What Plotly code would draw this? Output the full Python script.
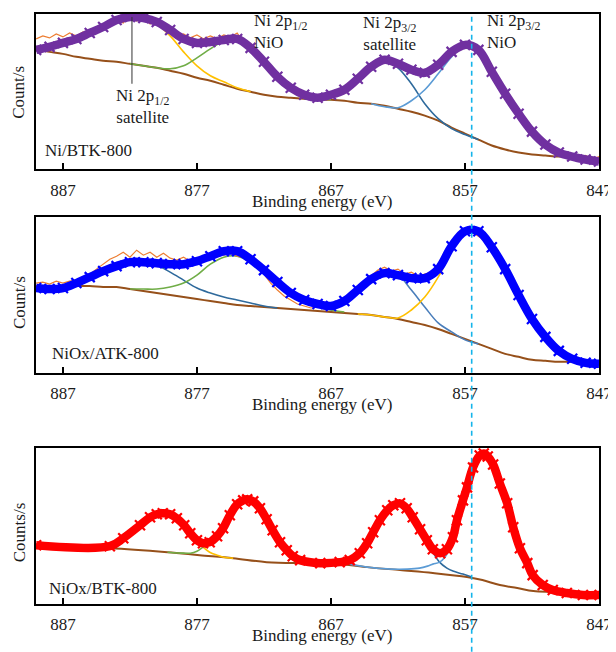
import plotly.graph_objects as go

FONT = "Liberation Serif, Times New Roman, serif"
TXT = "#1a1a1a"

# ---------------- Panel 1 : Ni/BTK-800 ----------------
E1 = [889, 888, 887, 886, 885, 884, 883, 882, 881, 880, 879, 878, 877, 876, 875, 874, 873, 872,
      871, 870, 869, 868, 867, 866, 865, 864, 863, 862, 861, 860, 859, 858, 857, 856, 855, 854,
      853, 852, 851, 850, 849, 848, 847]
P1_ENVELOPE = [120, 123, 127, 131, 137, 143, 150, 153, 152, 148, 140, 131, 127, 128, 130, 131, 122, 108,
               93, 82, 75, 72, 75, 80, 91, 103, 110, 106, 100, 97, 105, 118, 125, 120, 98, 76,
               56, 38, 25, 17, 13, 10, 8]
P1_BACKGROUND = [120, 118, 116, 113, 111, 109, 108, 106, 104, 102, 99, 96, 92, 89, 85, 81, 78, 75,
                 73, 72, 71, 70, 70, 69, 67, 66, 64, 61, 58, 54, 49, 42, 36, 30, 24, 20,
                 17, 15, 14, 13, 13, 12, 11]
P1_SAT12_E = [889, 888, 887, 886, 885, 884, 883, 882, 881, 880, 879, 878, 877, 876, 875, 874, 873]
P1_SAT12 = [120, 123, 127, 131, 137, 143, 150, 153, 151, 146, 134, 118, 104, 94, 88, 82, 78]
P1_NIO12_E = [882, 881, 880, 879, 878, 877, 876, 875, 874, 873, 872, 871, 870, 869, 868, 867]
P1_NIO12 = [106, 104, 102, 101, 104, 112, 121, 129, 130, 122, 108, 93, 82, 75, 72, 70]
P1_SAT32_E = [869, 868, 867, 866, 865, 864, 863, 862, 861, 860, 859, 858, 857, 856]
P1_SAT32 = [71, 72, 75, 80, 91, 103, 110, 102, 86, 66, 51, 41, 35, 30]
P1_NIO32_E = [864, 863, 862, 861, 860, 859, 858, 857, 856, 855, 854, 853, 852, 851, 850, 849, 848, 847]
P1_NIO32 = [66, 63, 62, 69, 80, 96, 113, 124, 120, 98, 76, 56, 38, 25, 17, 13, 10, 8]

RAW_E = [889, 888.5, 888, 887.5, 887, 886.5, 886, 885.5, 885, 884.5, 884, 883.5, 883, 882.5, 882,
         881.5, 881, 880.5, 880, 879.5, 879, 878.5, 878, 877.5, 877, 876.5, 876, 875.5, 875, 874.5,
         874, 873.5, 873, 872.5, 872, 871.5, 871, 870.5, 870, 869.5, 869, 868.5, 868, 867.5, 867,
         866.5, 866, 865.5, 865, 864.5, 864, 863.5, 863, 862.5, 862, 861.5, 861, 860.5, 860, 859.5,
         859, 858.5, 858, 857.5, 857, 856.5, 856, 855.5, 855, 854.5, 854, 853.5, 853, 852.5, 852,
         851.5, 851, 850.5, 850, 849.5, 849, 848.5, 848, 847.5, 847]
P1_RAW = [131, 134, 132, 136, 133, 137, 134, 138, 136, 141,
          145, 143, 150, 147, 155, 149, 153, 146, 150, 141,
          138, 134, 136, 132, 135, 131, 134, 131, 135, 133,
          137, 127, 123, 115, 109, 100, 94, 86, 83, 78,
          76, 72, 74, 72, 76, 77, 81, 85, 92, 97,
          104, 108, 111, 108, 107, 101, 100, 97, 98, 100,
          106, 112, 119, 124, 126, 125, 121, 111, 99, 87,
          77, 66, 56, 46, 39, 31, 25, 21, 17, 15,
          13, 12, 14, 10, 13]

# ---------------- Panel 2 : NiOx/ATK-800 ----------------
P2_ENVELOPE = [85, 84, 85, 90, 96, 102, 107, 111, 111, 110, 109, 109, 112, 117, 122, 122, 114, 103,
               91, 80, 73, 69, 67, 72, 83, 94, 100, 98, 95, 95, 104, 127, 142, 142, 126, 104,
               78, 54, 36, 22, 14, 10, 9]
P2_BACKGROUND = [87, 87, 87, 87, 87, 86, 86, 84, 82, 80, 78, 76, 74, 72, 70, 68, 67, 66,
                 65, 64, 63, 62, 61, 60, 59, 58, 56, 54, 51, 48, 44, 39, 34, 29, 24, 19,
                 16, 13, 12, 11, 11, 10, 10]
P2_SAT12_E = [886, 885, 884, 883, 882, 881, 880, 879, 878, 877, 876, 875, 874, 873, 872, 871]
P2_SAT12 = [90, 96, 102, 107, 111, 111, 108, 101, 93, 85, 80, 76, 73, 70, 67, 65]
P2_NIO12_E = [882, 881, 880, 879, 878, 877, 876, 875, 874, 873, 872, 871, 870, 869, 868, 867, 866]
P2_NIO12 = [84, 84, 84, 86, 90, 98, 109, 116, 117, 111, 101, 90, 80, 72, 67, 63, 61]
P2_SAT32_E = [868, 867, 866, 865, 864, 863, 862, 861, 860, 859, 858, 857, 856]
P2_SAT32 = [67, 68, 73, 83, 94, 100, 98, 83, 66, 50, 41, 33, 29]
P2_NIO32_E = [865, 864, 863, 862, 861, 860, 859, 858, 857, 856, 855, 854, 853, 852, 851, 850, 849, 848, 847]
P2_NIO32 = [59, 58, 56, 55, 63, 76, 96, 122, 140, 141, 125, 104, 78, 54, 36, 22, 14, 10, 9]
P2_RAW = [90, 91, 89, 92, 90, 92, 93, 96, 99, 104,
          109, 114, 117, 121, 116, 123, 118, 121, 116, 120,
          115, 113, 116, 112, 115, 117, 116, 119, 118, 120,
          117, 116, 113, 107, 99, 90, 83, 77, 73, 69,
          67, 65, 66, 64, 67, 70, 74, 80, 86, 92,
          97, 103, 106, 102, 104, 99, 101, 97, 99, 101,
          106, 116, 126, 134, 140, 141, 137, 132, 122, 111,
          101, 89, 77, 65, 54, 44, 36, 28, 22, 17,
          14, 11, 13, 10, 12]

# ---------------- Panel 3 : NiOx/BTK-800 ----------------
P3_ENV_E = [889.0, 883.5, 882.5, 881.25, 880.5, 880.0, 879.55, 879.0, 878.5, 877.95, 877.5, 877.0,
            876.55, 876.05, 875.5, 875.05, 874.55, 874.0, 873.55, 873.25, 872.8, 872.3, 871.8,
            871.35, 870.8, 870.3, 869.85, 869.3, 867.8, 866.35, 865.6, 864.85, 864.3, 863.85,
            863.35, 862.8, 862.35, 861.85, 861.35, 860.9, 860.35, 859.85, 859.4, 858.85, 858.35,
            857.9, 857.6, 857.15, 856.85, 856.4, 855.9, 855.6, 855.3, 854.9, 854.4, 853.85, 853.4,
            852.9, 852.35, 851.95, 851.2, 850.45, 849.4, 848.2, 846.95]
P3_ENVELOPE = [59, 58, 66, 79, 87, 90, 91, 90, 86, 79, 71, 64,
               61, 62, 68, 76, 89, 100, 104, 105, 103, 96, 85,
               74, 62, 54, 48, 44, 41, 42, 44, 51, 61, 72,
               84, 94, 99, 101, 96, 87, 75, 64, 55, 51, 55,
               67, 84, 104, 117, 137, 149, 151, 148, 140, 121, 101, 77,
               56, 41, 29, 19, 14, 11, 9, 9]
P3_BG_E = [889.0, 883.5, 879.2, 876.8, 874.3, 871.8, 869.3, 866.9, 864.3, 861.85, 859.4, 856.85,
           855.7, 854.4, 853.1, 851.9, 850.4, 846.95]
P3_BACKGROUND = [58, 56, 52, 49, 46, 42, 41, 41, 37, 34, 31, 27, 24, 19, 16, 13, 12, 10]
P3_SAT12_E = [883.5, 882.5, 881.25, 880.5, 880.0, 879.55, 879.0, 878.5, 877.95, 877.5, 877.0,
              876.55, 876.05, 875.5, 875.0, 874.3]
P3_SAT12 = [56, 66, 79, 87, 90, 91, 90, 86, 79, 71, 63, 57, 52, 49, 47, 46]
P3_NIO12_E = [879.2, 878.0, 877.5, 877.0, 876.55, 876.05, 875.5, 875.05, 874.55, 874.0, 873.55,
              873.25, 872.8, 872.3, 871.8, 871.35, 870.8, 870.3, 869.85, 869.3, 868.5]
P3_NIO12 = [52, 51, 51, 53, 57, 61, 67, 76, 89, 100, 104, 105, 103, 96, 85, 74, 62, 54, 48, 44, 42]
P3_SAT32_E = [867.8, 866.35, 865.6, 864.85, 864.3, 863.85, 863.35, 862.8, 862.35, 861.85, 861.35,
              860.9, 860.35, 859.85, 859.4, 858.9, 858.35, 857.9, 857.15, 856.5]
P3_SAT32 = [41, 42, 44, 51, 61, 72, 84, 94, 99, 101, 96, 87, 75, 63, 52, 42, 36, 33, 30, 27]
P3_NIO32_E = [865.6, 864.3, 862.5, 861.3, 860.4, 859.8, 859.4, 858.9, 858.5, 858.2, 857.9, 857.6,
              857.15, 856.85, 856.4, 855.9, 855.6, 855.3, 854.9, 854.4, 853.85, 853.4, 852.9,
              852.35, 851.95, 851.2, 850.45, 849.4, 848.2, 846.95]
P3_NIO32 = [40, 37, 35, 35, 36, 38, 40, 42, 47, 54, 66, 84, 104, 117, 137, 149, 151, 148, 140, 121,
            101, 77, 56, 41, 29, 19, 14, 11, 9, 9]

TICKS = [887, 877, 867, 857, 847]
SAMPLES = ["Ni/BTK-800", "NiOx/ATK-800", "NiOx/BTK-800"]
YTITLES = ["Count/s", "Count/s", "Counts/s"]
XTITLE = "Binding energy (eV)"
REF_LINE_EV = 856.5

C_RAW = "#ED7D31"
C_BG = "#96501A"
C_YEL = "#FFC000"
C_GRN = "#70AD47"
C_DBL = "#2F6A9C"
C_LBL = "#5B9BD5"

fig = go.Figure()


def line(x, y, color, width, ax, shape="spline"):
    fig.add_trace(go.Scatter(x=x, y=y, mode="lines", line=dict(color=color, width=width, shape=shape),
                             xaxis="x" + ax, yaxis="y" + ax, hoverinfo="skip", showlegend=False))


def env(x, y, color, ax):
    fig.add_trace(go.Scatter(x=x, y=y, mode="lines+markers",
                             line=dict(color=color, width=8.5, shape="spline"),
                             marker=dict(symbol="x-thin", size=10, line=dict(color=color, width=2.2)),
                             xaxis="x" + ax, yaxis="y" + ax, hoverinfo="skip", showlegend=False))


# panel 1
line(E1, P1_BACKGROUND, C_BG, 2, "")
line(P1_SAT12_E, P1_SAT12, C_YEL, 1.6, "")
line(P1_NIO12_E, P1_NIO12, C_GRN, 1.6, "")
line(P1_SAT32_E, P1_SAT32, C_DBL, 1.6, "")
line(P1_NIO32_E, P1_NIO32, C_LBL, 1.6, "")
line(RAW_E, P1_RAW, C_RAW, 1.2, "", shape="linear")
env(E1, P1_ENVELOPE, "#7030A0", "")

# panel 2
line(E1, P2_BACKGROUND, C_BG, 2, "2")
line(P2_SAT12_E, P2_SAT12, C_DBL, 1.6, "2")
line(P2_NIO12_E, P2_NIO12, C_GRN, 1.6, "2")
line(P2_SAT32_E, P2_SAT32, "#4A7EBB", 1.6, "2")
line(P2_NIO32_E, P2_NIO32, C_YEL, 1.6, "2")
line(RAW_E, P2_RAW, C_RAW, 1.2, "2", shape="linear")
env(E1, P2_ENVELOPE, "#0000FF", "2")

# panel 3
line(P3_BG_E, P3_BACKGROUND, C_BG, 2, "3")
line(P3_SAT12_E, P3_SAT12, C_YEL, 1.6, "3")
line(P3_NIO12_E, P3_NIO12, C_GRN, 1.6, "3")
line(P3_SAT32_E, P3_SAT32, C_DBL, 1.6, "3")
line(P3_NIO32_E, P3_NIO32, C_LBL, 1.6, "3")
env(P3_ENV_E, P3_ENVELOPE, "#FF0000", "3")

xcommon = dict(range=[889.01, 847.0], showline=True, linecolor="black", linewidth=2, mirror=True,
               ticks="inside", ticklen=6, tickwidth=1.5, tickcolor="black", tickvals=TICKS,
               showgrid=False, zeroline=False, ticklabelstandoff=4,
               tickfont=dict(family=FONT, size=17, color=TXT))
ycommon = dict(showline=True, linecolor="black", linewidth=2, mirror=True, ticks="",
               showticklabels=False, showgrid=False, zeroline=False)

# the page adds an 8px body margin, so the figure is drawn 8px smaller and offset
H = 592.0
def py(px):
    return (604 - px) / H

fig.update_layout(
    width=608, height=644,
    margin=dict(l=28, r=17, t=4, b=48, pad=0),
    paper_bgcolor="white", plot_bgcolor="white",
    font=dict(family=FONT, size=17, color=TXT),
    xaxis=dict(anchor="y", domain=[0, 1], **xcommon),
    yaxis=dict(anchor="x", domain=[py(168), 1], range=[0, 156], **ycommon),
    xaxis2=dict(anchor="y2", domain=[0, 1], **xcommon),
    yaxis2=dict(anchor="x2", domain=[py(372), py(216)], range=[0, 156], **ycommon),
    xaxis3=dict(anchor="y3", domain=[0, 1], **xcommon),
    yaxis3=dict(anchor="x3", domain=[0, py(447)], range=[0, 157], **ycommon),
)

ann = []
# x-axis titles
for ypx in (200, 404, 636):
    ann.append(dict(text=XTITLE, xref="paper", yref="paper", x=(322 - 36) / 563, y=py(ypx),
                    xanchor="center", yanchor="middle", showarrow=False))
# y-axis titles
for t, ypx in zip(YTITLES, (91, 302, 532)):
    ann.append(dict(text=t, xref="paper", yref="paper", x=(19 - 36) / 563, y=py(ypx),
                    xanchor="center", yanchor="middle", textangle=-90, showarrow=False))
# sample labels
for t, ax, xe, yv in zip(SAMPLES, ("", "2", "3"), (888.49, 887.97, 888.19), (19, 19, 16)):
    ann.append(dict(text=t, xref="x" + ax, yref="y" + ax, x=xe, y=yv, xanchor="left",
                    yanchor="middle", showarrow=False))
# peak labels (panel 1)
ann += [
    dict(text="Ni 2p<sub>1/2</sub><br>satellite", x=881.1, y=63, align="center",
         xanchor="center", yanchor="middle", showarrow=False),
    dict(text="Ni 2p<sub>1/2</sub><br>NiO", x=872.9, y=138, align="left",
         xanchor="left", yanchor="middle", showarrow=False),
    dict(text="Ni 2p<sub>3/2</sub><br>satellite", x=862.67, y=136.5, align="center",
         xanchor="center", yanchor="middle", showarrow=False),
    dict(text="Ni 2p<sub>3/2</sub><br>NiO", x=855.5, y=138, align="left",
         xanchor="left", yanchor="middle", showarrow=False),
]
fig.update_layout(annotations=ann)

fig.add_shape(type="line", xref="x", yref="y", x0=881.85, x1=881.85, y0=153, y1=86,
              line=dict(color="#333333", width=1))
fig.add_shape(type="line", xref="x", yref="paper", x0=REF_LINE_EV, x1=REF_LINE_EV, y0=py(652), y1=1,
              line=dict(color="#14B4EA", width=1.6, dash="5px,4px"), layer="above")

fig.write_html("out.html")
